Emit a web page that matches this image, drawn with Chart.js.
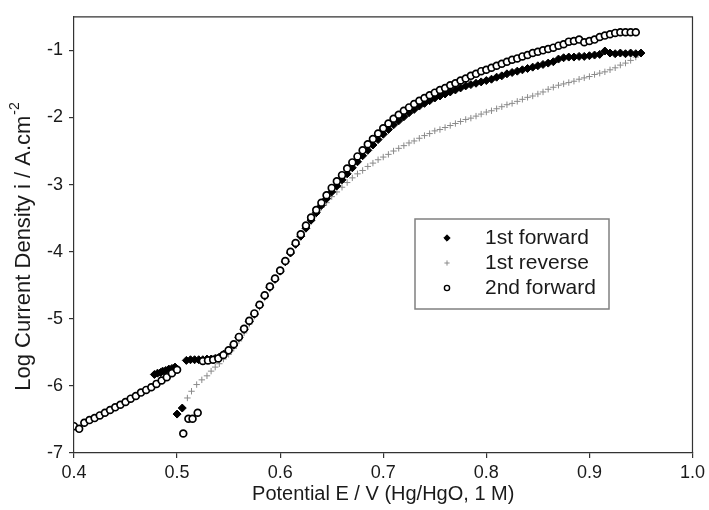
<!DOCTYPE html>
<html>
<head>
<meta charset="utf-8">
<title>Polarisation curves</title>
<script src="https://cdn.jsdelivr.net/npm/chart.js@4/dist/chart.umd.min.js"></script>
<style>
  html, body { margin: 0; padding: 0; background: #fff; }
  #wrap { width: 709px; height: 510px; }
</style>
</head>
<body>
<div id="wrap"><canvas id="c" width="709" height="510"></canvas></div>
<script>
// Potential (V vs Hg/HgO) and log current density for each sweep
const firstForwardE = [
  0.478, 0.481, 0.484, 0.486, 0.489, 0.492, 0.495, 0.498,
  0.500, 0.505,
  0.509, 0.513, 0.517, 0.521, 0.525, 0.529, 0.533, 0.537, 0.541, 0.545,
  0.550, 0.555, 0.560, 0.565, 0.570, 0.575, 0.580, 0.585, 0.590, 0.595,
  0.600, 0.605, 0.610, 0.615, 0.620, 0.625, 0.630, 0.635, 0.640, 0.645,
  0.650, 0.655, 0.660, 0.665, 0.670, 0.675, 0.680, 0.685, 0.690, 0.695,
  0.700, 0.705, 0.710, 0.715, 0.720, 0.725, 0.730, 0.735, 0.740, 0.745,
  0.750, 0.755, 0.760, 0.765, 0.770, 0.775, 0.780, 0.785, 0.790, 0.795,
  0.800, 0.805, 0.810, 0.815, 0.820, 0.825, 0.830, 0.835, 0.840, 0.845,
  0.850, 0.855, 0.860, 0.865, 0.870, 0.875, 0.880, 0.885, 0.890, 0.895,
  0.900, 0.905, 0.910, 0.915, 0.920, 0.925, 0.930, 0.935, 0.940, 0.945, 0.950
];
const firstForwardLog = [
  -5.83, -5.81, -5.80, -5.78, -5.77, -5.75, -5.74, -5.72,
  -6.42, -6.33,
  -5.62, -5.61, -5.61, -5.61, -5.61, -5.60, -5.60, -5.59, -5.57, -5.53,
  -5.47, -5.39, -5.28, -5.16, -5.04, -4.93, -4.80, -4.66, -4.53, -4.41,
  -4.29, -4.15, -4.02, -3.89, -3.77, -3.65, -3.53, -3.42, -3.31, -3.21,
  -3.11, -3.02, -2.93, -2.84, -2.75, -2.66, -2.57, -2.49, -2.41, -2.33,
  -2.25, -2.18, -2.11, -2.05, -1.99, -1.93, -1.88, -1.83, -1.79, -1.75,
  -1.71, -1.68, -1.65, -1.62, -1.59, -1.56, -1.53, -1.51, -1.49, -1.47,
  -1.45, -1.43, -1.40, -1.38, -1.35, -1.33, -1.31, -1.29, -1.27, -1.25,
  -1.23, -1.21, -1.19, -1.17, -1.13, -1.11, -1.10, -1.10, -1.09, -1.09,
  -1.08, -1.07, -1.06, -1.01, -1.04, -1.05, -1.04, -1.05, -1.04, -1.05, -1.04
];

const firstReverseE = [
  0.950, 0.945, 0.940, 0.935, 0.930, 0.925, 0.920, 0.915, 0.910, 0.905,
  0.900, 0.895, 0.890, 0.885, 0.880, 0.875, 0.870, 0.865, 0.860, 0.855,
  0.850, 0.845, 0.840, 0.835, 0.830, 0.825, 0.820, 0.815, 0.810, 0.805,
  0.800, 0.795, 0.790, 0.785, 0.780, 0.775, 0.770, 0.765, 0.760, 0.755,
  0.750, 0.745, 0.740, 0.735, 0.730, 0.725, 0.720, 0.715, 0.710, 0.705,
  0.700, 0.695, 0.690, 0.685, 0.680, 0.675, 0.670, 0.665, 0.660, 0.655,
  0.650, 0.645, 0.640, 0.635, 0.630, 0.625, 0.620, 0.615, 0.610, 0.605,
  0.600, 0.595, 0.590, 0.585, 0.580, 0.575, 0.570, 0.565, 0.560, 0.555,
  0.550, 0.545, 0.541, 0.537, 0.533, 0.529, 0.524, 0.519, 0.514, 0.510
];
const firstReverseLog = [
  -1.05, -1.10, -1.15, -1.19, -1.22, -1.26, -1.29, -1.32, -1.34, -1.36,
  -1.39, -1.41, -1.43, -1.46, -1.48, -1.50, -1.52, -1.55, -1.58, -1.62,
  -1.65, -1.68, -1.70, -1.73, -1.76, -1.79, -1.81, -1.84, -1.87, -1.90,
  -1.92, -1.95, -1.98, -2.01, -2.03, -2.06, -2.09, -2.12, -2.15, -2.18,
  -2.20, -2.24, -2.27, -2.31, -2.35, -2.38, -2.42, -2.46, -2.50, -2.55,
  -2.59, -2.63, -2.68, -2.73, -2.79, -2.84, -2.90, -2.97, -3.04, -3.11,
  -3.18, -3.27, -3.34, -3.44, -3.55, -3.66, -3.78, -3.90, -4.03, -4.16,
  -4.30, -4.43, -4.56, -4.69, -4.83, -4.96, -5.08, -5.21, -5.33, -5.44,
  -5.53, -5.60, -5.67, -5.72, -5.78, -5.85, -5.91, -5.98, -6.08, -6.18
];

const secondForwardE = [
  0.400, 0.405, 0.410, 0.415, 0.420, 0.425, 0.430, 0.435, 0.440, 0.445,
  0.450, 0.455, 0.460, 0.465, 0.470, 0.475, 0.480, 0.485, 0.490, 0.495, 0.500,
  0.506, 0.511, 0.515, 0.520,
  0.525, 0.530, 0.535, 0.540, 0.545, 0.550, 0.555, 0.560, 0.565, 0.570,
  0.575, 0.580, 0.585, 0.590, 0.595, 0.600, 0.605, 0.610, 0.615, 0.620,
  0.625, 0.630, 0.635, 0.640, 0.645, 0.650, 0.655, 0.660, 0.665, 0.670,
  0.675, 0.680, 0.685, 0.690, 0.695, 0.700, 0.705, 0.710, 0.715, 0.720,
  0.725, 0.730, 0.735, 0.740, 0.745, 0.750, 0.755, 0.760, 0.765, 0.770,
  0.775, 0.780, 0.785, 0.790, 0.795, 0.800, 0.805, 0.810, 0.815, 0.820,
  0.825, 0.830, 0.835, 0.840, 0.845, 0.850, 0.855, 0.860, 0.865, 0.870,
  0.875, 0.880, 0.885, 0.890, 0.895, 0.900, 0.905, 0.910, 0.915, 0.920,
  0.925, 0.930, 0.935, 0.940, 0.945
];
const secondForwardLog = [
  -6.60, -6.64, -6.55, -6.51, -6.48, -6.44, -6.40, -6.36, -6.32, -6.28,
  -6.24, -6.19, -6.15, -6.10, -6.06, -6.02, -5.97, -5.92, -5.87, -5.81, -5.76,
  -6.71, -6.49, -6.49, -6.40,
  -5.63, -5.62, -5.61, -5.59, -5.54, -5.47, -5.38, -5.27, -5.15, -5.03,
  -4.92, -4.79, -4.65, -4.52, -4.40, -4.28, -4.14, -4.00, -3.87, -3.74,
  -3.61, -3.49, -3.38, -3.27, -3.16, -3.05, -2.95, -2.86, -2.76, -2.67,
  -2.58, -2.49, -2.40, -2.32, -2.24, -2.16, -2.09, -2.02, -1.96, -1.90,
  -1.85, -1.80, -1.75, -1.71, -1.67, -1.63, -1.59, -1.56, -1.52, -1.49,
  -1.45, -1.42, -1.38, -1.35, -1.31, -1.29, -1.26, -1.23, -1.20, -1.17,
  -1.14, -1.12, -1.09, -1.07, -1.04, -1.02, -1.00, -0.98, -0.96, -0.93,
  -0.91, -0.87, -0.86, -0.84, -0.88, -0.86, -0.84, -0.80, -0.78, -0.76,
  -0.74, -0.73, -0.73, -0.73, -0.73
];

const xTickValues = [0.4, 0.5, 0.6, 0.7, 0.8, 0.9, 1.0];
const yTickValues = [-7, -6, -5, -4, -3, -2, -1];

const seriesNames = ['1st forward', '1st reverse', '2nd forward'];
const xAxisTitle = 'Potential E / V (Hg/HgO, 1 M)';
const yAxisTitle = 'Log Current Density i / A.cm';
const yAxisTitleSup = '-2';

const FONT = '"Liberation Sans", Arial, Helvetica, sans-serif';
const INK = '#1a1a1a';

function pairs(xs, ys) {
  return xs.map((x, i) => ({ x: x, y: ys[i] }));
}

const styles = [
  { pointStyle: 'rectRot', radius: 4, backgroundColor: '#000', borderColor: '#000', borderWidth: 1 },
  { pointStyle: 'cross', radius: 3.2, backgroundColor: '#8a8a8a', borderColor: '#8a8a8a', borderWidth: 1 },
  { pointStyle: 'circle', radius: 3.4, backgroundColor: '#fff', borderColor: '#000', borderWidth: 1.7 }
];

// Frame, axis titles and the boxed legend inside the plot
const decorations = {
  id: 'decorations',
  afterDraw(chart) {
    const ctx = chart.ctx;
    const a = chart.chartArea;
    ctx.save();

    // top and right edges of the frame
    ctx.strokeStyle = '#333';
    ctx.lineWidth = 1.2;
    ctx.beginPath();
    ctx.moveTo(a.left, a.top);
    ctx.lineTo(a.right, a.top);
    ctx.lineTo(a.right, a.bottom);
    ctx.stroke();

    // x axis title
    ctx.fillStyle = INK;
    ctx.font = '20px ' + FONT;
    ctx.textAlign = 'center';
    ctx.textBaseline = 'middle';
    ctx.fillText(xAxisTitle, (a.left + a.right) / 2, 494);

    // y axis title with superscript
    ctx.save();
    ctx.translate(24, 247);
    ctx.rotate(-Math.PI / 2);
    ctx.font = '22px ' + FONT;
    const wMain = ctx.measureText(yAxisTitle).width;
    ctx.font = '14px ' + FONT;
    const wSup = ctx.measureText(yAxisTitleSup).width;
    const start = -(wMain + wSup) / 2;
    ctx.textAlign = 'left';
    ctx.font = '22px ' + FONT;
    ctx.fillText(yAxisTitle, start, 0);
    ctx.font = '14px ' + FONT;
    ctx.fillText(yAxisTitleSup, start + wMain + 1, -9);
    ctx.restore();

    // legend box
    const box = { x: 415, y: 219, w: 194, h: 90 };
    ctx.strokeStyle = '#808080';
    ctx.lineWidth = 1.5;
    ctx.strokeRect(box.x, box.y, box.w, box.h);
    const rowY = [238, 263, 288];
    const legendMarks = [
      { pointStyle: 'rectRot', radius: 3.2, borderWidth: 1 },
      { pointStyle: 'cross', radius: 2.6, borderWidth: 1 },
      { pointStyle: 'circle', radius: 2.6, borderWidth: 1.4 }
    ];
    seriesNames.forEach((name, i) => {
      ctx.fillStyle = styles[i].backgroundColor;
      ctx.strokeStyle = styles[i].borderColor;
      ctx.lineWidth = legendMarks[i].borderWidth;
      Chart.helpers.drawPoint(ctx, {
        pointStyle: legendMarks[i].pointStyle,
        radius: legendMarks[i].radius,
        borderWidth: legendMarks[i].borderWidth,
        rotation: 0
      }, 447, rowY[i]);
      ctx.fillStyle = INK;
      ctx.font = '21px ' + FONT;
      ctx.textAlign = 'left';
      ctx.textBaseline = 'middle';
      ctx.fillText(name, 485, rowY[i]);
    });
    ctx.restore();
  }
};

const sweeps = [
  pairs(firstForwardE, firstForwardLog),
  pairs(firstReverseE, firstReverseLog),
  pairs(secondForwardE, secondForwardLog)
];
const drawOrder = [2, 3, 1];

new Chart(document.getElementById('c'), {
  type: 'scatter',
  data: {
    datasets: sweeps.map((pts, i) => ({
      label: seriesNames[i],
      data: pts,
      showLine: false,
      order: drawOrder[i],
      pointStyle: styles[i].pointStyle,
      pointRadius: styles[i].radius,
      pointHoverRadius: styles[i].radius,
      pointBackgroundColor: styles[i].backgroundColor,
      pointBorderColor: styles[i].borderColor,
      pointBorderWidth: styles[i].borderWidth
    }))
  },
  options: {
    responsive: false,
    animation: false,
    devicePixelRatio: 1,
    layout: { padding: { top: 14, right: 15, left: 0, bottom: 0 } },
    plugins: {
      legend: { display: false },
      tooltip: { enabled: false }
    },
    scales: {
      x: {
        type: 'linear',
        min: 0.4,
        max: 1.0,
        afterBuildTicks(scale) { scale.ticks = xTickValues.map(v => ({ value: v })); },
        afterFit(scale) { scale.height = 57; },
        ticks: {
          font: { size: 18, family: FONT },
          color: INK,
          padding: 4,
          maxRotation: 0,
          callback: v => Number(v).toFixed(1)
        },
        grid: { drawOnChartArea: false, drawTicks: true, tickLength: 5, color: '#333', lineWidth: 1.2 },
        border: { display: true, color: '#333', width: 1.2 }
      },
      y: {
        type: 'linear',
        min: -7,
        max: -0.5,
        afterBuildTicks(scale) { scale.ticks = yTickValues.map(v => ({ value: v })); },
        afterFit(scale) { scale.width = 74; },
        ticks: {
          font: { size: 18, family: FONT },
          color: INK,
          padding: 6,
          callback: v => String(v)
        },
        grid: { drawOnChartArea: false, drawTicks: true, tickLength: 5, color: '#333', lineWidth: 1.2 },
        border: { display: true, color: '#333', width: 1.2 }
      }
    }
  },
  plugins: [decorations]
});
</script>
</body>
</html>
